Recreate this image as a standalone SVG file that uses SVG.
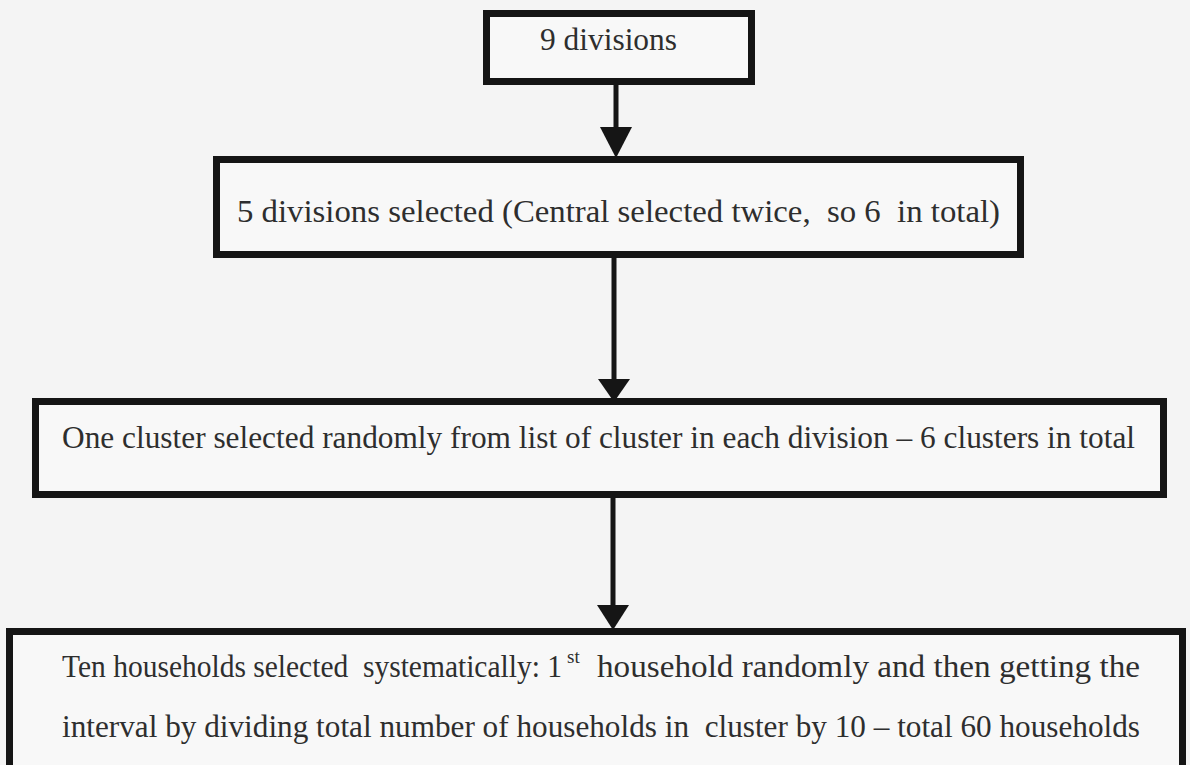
<svg xmlns="http://www.w3.org/2000/svg" width="1190" height="765" viewBox="0 0 1190 765">
  <style>
    .box { fill: #f8f8f8; stroke: #151515; stroke-width: 7; }
    .t { font-family: "Liberation Serif", "Times New Roman", serif; font-size: 32px; fill: #2e2e2e; white-space: pre; }
    .ln { stroke: #151515; stroke-width: 5; fill: none; }
    .hd { fill: #151515; }
  </style>
  <rect x="0" y="0" width="1190" height="765" fill="#f4f4f4"/>
  <g id="connectors">
    <line class="ln" x1="616" y1="70" x2="616" y2="132"/>
    <polygon class="hd" points="600,127 632,127 616,158"/>
    <line class="ln" x1="614" y1="258" x2="614" y2="384"/>
    <polygon class="hd" points="598,379 630,379 614,402"/>
    <line class="ln" x1="613" y1="482" x2="613" y2="610"/>
    <polygon class="hd" points="597,605 629,605 613,630"/>
  </g>
  <g id="node1">
    <rect class="box" x="486.5" y="13.5" width="265" height="68"/>
    <text class="t" x="540" y="50" textLength="137" lengthAdjust="spacingAndGlyphs">9 divisions</text>
  </g>
  <g id="node2">
    <rect class="box" x="216.5" y="159.5" width="804" height="95"/>
    <text class="t" x="237" y="222" textLength="763" lengthAdjust="spacingAndGlyphs">5 divisions selected (Central selected twice,  so 6  in total)</text>
  </g>
  <g id="node3">
    <rect class="box" x="35.5" y="401.5" width="1128" height="93"/>
    <text class="t" x="62" y="448" textLength="1073" lengthAdjust="spacingAndGlyphs">One cluster selected randomly from list of cluster in each division – 6 clusters in total</text>
  </g>
  <g id="node4">
    <rect class="box" x="9.5" y="631.5" width="1173" height="150"/>
    <text class="t" x="62" y="677"><tspan textLength="500" lengthAdjust="spacingAndGlyphs">Ten households selected  systematically: 1</tspan><tspan x="567" y="663" font-size="19">st</tspan><tspan x="597" y="677" textLength="543" lengthAdjust="spacingAndGlyphs">household randomly and then getting the</tspan></text>
    <text class="t" x="62" y="737" textLength="1078" lengthAdjust="spacingAndGlyphs">interval by dividing total number of households in  cluster by 10 – total 60 households</text>
  </g>
</svg>
